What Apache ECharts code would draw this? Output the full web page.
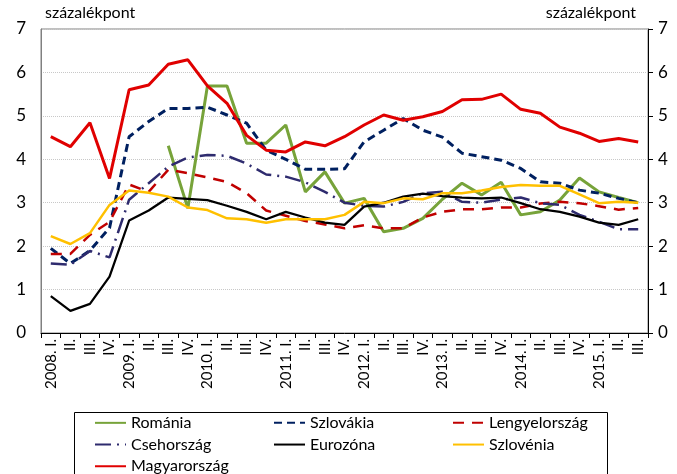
<!DOCTYPE html>
<html>
<head>
<meta charset="utf-8">
<script src="https://cdn.jsdelivr.net/npm/echarts@6/dist/echarts.min.js"></script>
<style>
  html, body { margin: 0; padding: 0; background: #fff; }
  #chart { width: 677px; height: 474px; }
</style>
</head>
<body>
<div id="chart"></div>
<script>
// quarters 2008 I. - 2015 III.
const quarters = [
  '2008. I.', 'II.', 'III.', 'IV.',
  '2009. I.', 'II.', 'III.', 'IV.',
  '2010. I.', 'II.', 'III.', 'IV.',
  '2011. I.', 'II.', 'III.', 'IV.',
  '2012. I.', 'II.', 'III.', 'IV.',
  '2013. I.', 'II.', 'III.', 'IV.',
  '2014. I.', 'II.', 'III.', 'IV.',
  '2015. I.', 'II.', 'III.'
];
const yTicks = [0, 1, 2, 3, 4, 5, 6, 7];

const romania = [null, null, null, null, null, null, 4.31, 2.87, 5.69, 5.69, 4.37, 4.37, 4.79, 3.25, 3.71, 2.99,
  3.10, 2.33, 2.41, 2.64, 3.08, 3.45, 3.18, 3.47, 2.72, 2.79, 3.06, 3.57, 3.25, 3.12, 3.00];
const szlovakia = [1.95, 1.60, 1.90, 2.42, 4.52, 4.87, 5.17, 5.17, 5.20, 5.02, 4.83, 4.21, 4.00, 3.77, 3.77, 3.78,
  4.40, 4.67, 4.94, 4.67, 4.51, 4.14, 4.06, 3.98, 3.79, 3.48, 3.45, 3.29, 3.22, 3.10, 3.00];
const lengyel = [1.82, 1.82, 2.26, 2.56, 3.42, 3.25, 3.76, 3.68, 3.58, 3.48, 3.22, 2.82, 2.70, 2.58, 2.50, 2.41,
  2.48, 2.41, 2.41, 2.66, 2.79, 2.85, 2.85, 2.89, 2.89, 2.98, 3.02, 2.99, 2.92, 2.84, 2.88];
const cseh = [1.60, 1.57, 1.89, 1.74, 3.07, 3.45, 3.83, 4.04, 4.10, 4.08, 3.90, 3.65, 3.60, 3.47, 3.25, 3.00,
  2.93, 2.91, 3.02, 3.22, 3.25, 3.02, 3.00, 3.07, 3.12, 2.99, 2.95, 2.72, 2.56, 2.39, 2.39];
const eurozona = [0.85, 0.51, 0.67, 1.30, 2.59, 2.82, 3.12, 3.09, 3.06, 2.93, 2.79, 2.62, 2.79, 2.66, 2.54, 2.49,
  2.91, 3.00, 3.14, 3.21, 3.15, 3.12, 3.10, 3.12, 2.99, 2.85, 2.79, 2.68, 2.54, 2.49, 2.62];
const szlovenia = [2.23, 2.05, 2.30, 2.95, 3.28, 3.23, 3.14, 2.89, 2.83, 2.64, 2.62, 2.54, 2.62, 2.62, 2.62, 2.72,
  3.02, 2.99, 3.10, 3.08, 3.22, 3.22, 3.28, 3.36, 3.41, 3.39, 3.39, 3.19, 2.99, 3.02, 3.00];
const magyar = [4.52, 4.29, 4.84, 3.56, 5.60, 5.71, 6.19, 6.29, 5.69, 5.29, 4.55, 4.21, 4.17, 4.40, 4.31, 4.52,
  4.79, 5.02, 4.90, 4.98, 5.10, 5.37, 5.38, 5.50, 5.15, 5.06, 4.74, 4.60, 4.41, 4.48, 4.40];

const FONT = 'Lato';

function line(name, data, color, width, dash) {
  return {
    name: name,
    type: 'line',
    data: data,
    symbol: 'none',
    connectNulls: false,
    lineStyle: { color: color, width: width, type: dash || 'solid' },
    itemStyle: { color: color },
    emphasis: { disabled: true }
  };
}

const chart = echarts.init(document.getElementById('chart'));
chart.setOption({
  animation: false,
  textStyle: { fontFamily: FONT, color: '#000' },
  title: [
    { text: 'százalékpont', left: 45, top: 5, padding: 0, textStyle: { fontFamily: FONT, fontSize: 16, fontWeight: 'normal', color: '#000' } },
    { text: 'százalékpont', right: 41, top: 5, padding: 0, textStyle: { fontFamily: FONT, fontSize: 16, fontWeight: 'normal', color: '#000' } }
  ],
  grid: { left: 41, right: 29, top: 29, bottom: 141, show: true, borderColor: '#808080', borderWidth: 1 },
  legend: {
    left: 94, top: 412, width: 540, padding: 0,
    itemWidth: 31, itemHeight: 14, itemGap: 0,
    itemStyle: { opacity: 0 },
    textStyle: { fontFamily: FONT, fontSize: 16, color: '#000', width: 142, lineHeight: 21.7 },
    data: ['Románia', 'Szlovákia', 'Lengyelország', 'Csehország', 'Eurozóna', 'Szlovénia', 'Magyarország']
  },
  graphic: [{
    type: 'rect', silent: true,
    shape: { x: 74.5, y: 412.5, width: 533, height: 80 },
    style: { fill: 'none', stroke: '#000', lineWidth: 1 }
  }],
  xAxis: {
    type: 'category', data: quarters, boundaryGap: true,
    axisLine: { lineStyle: { color: '#000', width: 1 } },
    axisTick: { show: true, alignWithLabel: false, length: 5, interval: 0, lineStyle: { color: '#000' } },
    axisLabel: { interval: 0, rotate: 90, fontSize: 15, margin: 6, color: '#000', fontFamily: FONT }
  },
  yAxis: [{
    type: 'value', position: 'left', min: yTicks[0], max: yTicks[yTicks.length - 1], interval: 1,
    axisLine: { show: true, lineStyle: { color: '#808080' } },
    axisTick: { show: false },
    axisLabel: { fontSize: 17, margin: 15, color: '#000', fontFamily: FONT },
    splitLine: { show: true, lineStyle: { color: '#c8c8c8', type: 'dotted', width: 1 } }
  }, {
    type: 'value', position: 'right', min: yTicks[0], max: yTicks[yTicks.length - 1], interval: 1,
    axisLine: { show: true, lineStyle: { color: '#000' } },
    axisTick: { show: true, inside: false, length: 5, lineStyle: { color: '#000' } },
    axisLabel: { fontSize: 17, margin: 10, color: '#000', fontFamily: FONT },
    splitLine: { show: false }
  }],
  series: [
    line('Románia', romania, '#77a33a', 3),
    line('Szlovákia', szlovakia, '#002060', 3, [8, 5]),
    line('Lengyelország', lengyel, '#c00000', 2.5, [11, 8]),
    line('Csehország', cseh, '#2e2b6e', 2.5, [16, 6, 2, 6]),
    line('Eurozóna', eurozona, '#000000', 2.25),
    line('Szlovénia', szlovenia, '#ffc000', 2.5),
    line('Magyarország', magyar, '#e00000', 3)
  ]
});
</script>
</body>
</html>
